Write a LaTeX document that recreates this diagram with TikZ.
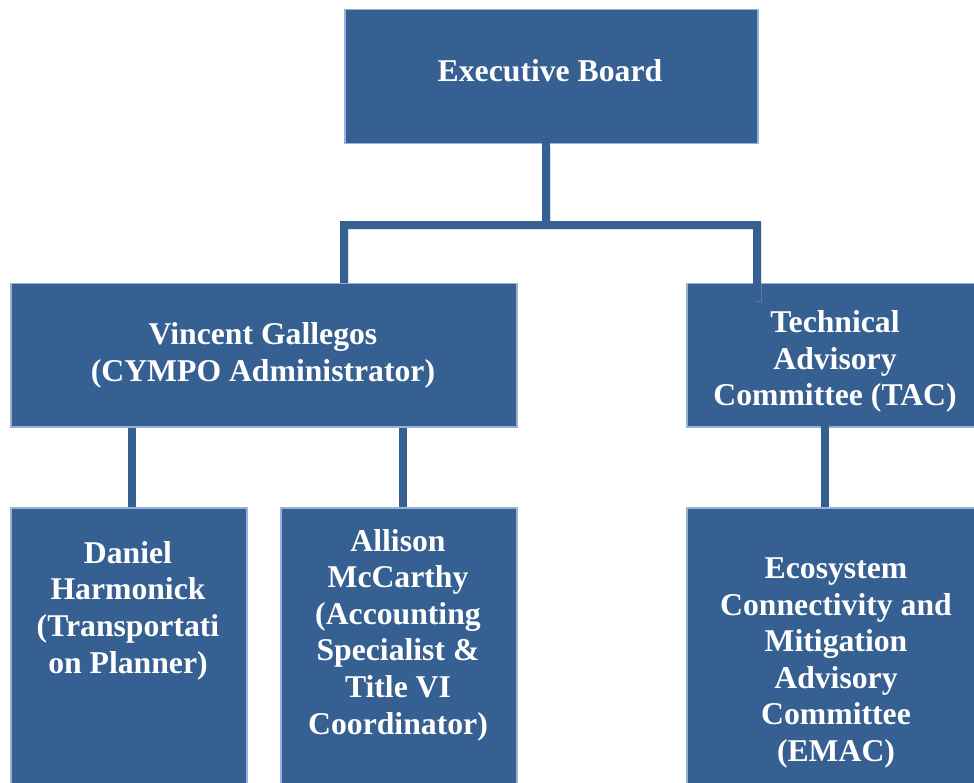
\documentclass[tikz,border=0pt]{standalone}
\usepackage{fontspec}
\setmainfont{Liberation Serif}
\definecolor{boxfill}{HTML}{366092}
\definecolor{boxedge}{HTML}{95B3D7}
\definecolor{connc}{HTML}{366092}
\tikzset{
  orgbox/.style={rectangle, fill=boxfill, draw=boxedge, line width=1.5pt, inner sep=0pt, anchor=north west},
  orgtext/.style={text=white, align=center, inner sep=0pt, font=\bfseries\fontsize{31.7}{36.6}\selectfont},
  conn/.style={draw=connc, line width=7.5pt, line join=miter},
  connshadow/.style={draw=black!35, opacity=0.35, line width=7.5pt, line join=miter}
}
\begin{document}
\begin{tikzpicture}[x=1pt, y=-1pt]
\useasboundingbox (0,0) rectangle (974,783);
\clip (0,0) rectangle (974,783);
% boxes
\node[orgbox, minimum width=413pt, minimum height=134pt] (exec) at (344,9) {};
\node[orgbox, minimum width=506pt, minimum height=143pt] (vincent) at (10,283) {};
\node[orgbox, minimum width=310pt, minimum height=143pt] (tac) at (686,283) {};
\node[orgbox, minimum width=236pt, minimum height=300pt] (daniel) at (10,507) {};
\node[orgbox, minimum width=236pt, minimum height=300pt] (allison) at (280,507) {};
\node[orgbox, minimum width=310pt, minimum height=300pt] (emac) at (686,507) {};
% connector coordinates
\coordinate (bus) at (546,225);
\coordinate (busL) at (344,225);
\coordinate (busR) at (757,225);
% connector shadows
\draw[connshadow] ([shift={(1.5pt,-1.5pt)}]exec.south -| bus) -- ([shift={(1.5pt,-1.5pt)}]bus);
\draw[connshadow] ([shift={(1.5pt,-1.5pt)}]busL |- vincent.north) -- ([shift={(1.5pt,-1.5pt)}]busL) -- ([shift={(1.5pt,-1.5pt)}]busR) -- ([shift={(1.5pt,-19.5pt)}]busR |- tac.north);
% connectors
\draw[conn] ([yshift=8pt]exec.south -| bus) -- ([yshift=-3pt]bus);
\draw[conn] (busL |- vincent.north) -- (busL) -- (busR) -- ([yshift=-18pt]busR |- tac.north);
\draw[conn] ([xshift=3pt]daniel.north) -- ([xshift=3pt]daniel.north |- vincent.south);
\draw[conn] ([xshift=4pt]allison.north) -- ([xshift=4pt]allison.north |- vincent.south);
\draw[conn] ([xshift=-17pt]emac.north) -- ([xshift=-17pt,yshift=19pt]emac.north |- tac.south);
% texts
\node[orgtext] (exect) at (550,71) {Executive Board};
\node[orgtext] (vincentt) at (263,355.5) {Vincent Gallegos\\(CYMPO Administrator)};
\node[orgtext] (tact) at (835,361.5) {Technical\\Advisory\\Committee (TAC)};
\node[orgtext] (danielt) at (128,610.5) {Daniel\\Harmonick\\(Transportati\\on Planner)};
\node[orgtext] (allisont) at (398,635) {Allison\\McCarthy\\(Accounting\\Specialist \&\\Title VI\\Coordinator)};
\node[orgtext] (emact) at (836,663) {Ecosystem\\Connectivity and\\Mitigation\\Advisory\\Committee\\(EMAC)};
\end{tikzpicture}
\end{document}
